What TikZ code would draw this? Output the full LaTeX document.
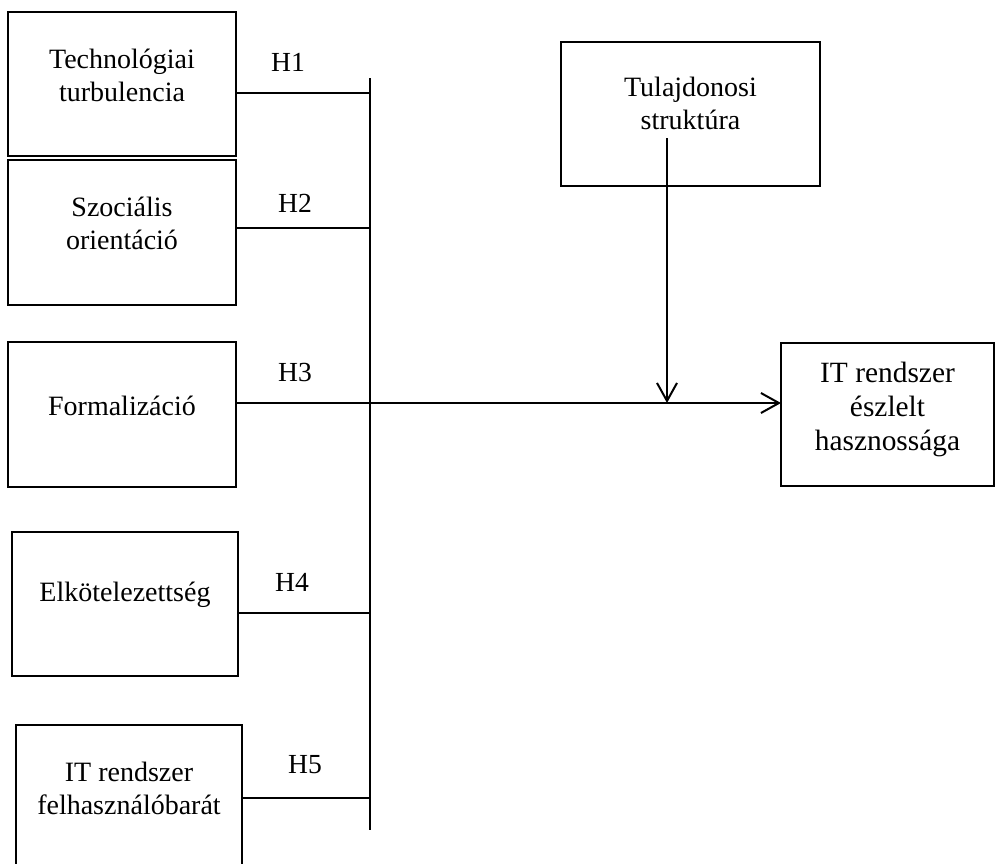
\documentclass[tikz,border=0pt]{standalone}
\usepackage{fontspec}
\setmainfont{Liberation Serif}
\usetikzlibrary{positioning, arrows.meta}
\begin{document}
\begin{tikzpicture}[
    x=0.5pt, y=-0.5pt,
    box/.style={draw, line width=1pt, inner sep=0pt, outer sep=0pt, minimum width=114pt, minimum height=72.5pt},
    txt/.style={align=center, inner sep=0pt, font=\fontsize{14}{16.5}\selectfont},
    hlab/.style={inner sep=0pt, font=\fontsize{13.8}{15}\selectfont},
    link/.style={line width=1pt},
    arr/.style={line width=1pt, -{Straight Barb[length=9pt, width=10pt, line width=1pt]}},
  ]
  \useasboundingbox (0,0) rectangle (997,863);
  \node[box, minimum height=72pt] (tech) at (122,84) {};
  \node[box, below=2pt of tech] (soc) {};
  \node[box, below=18.5pt of soc] (form) {};
  \node[box, minimum width=113pt, minimum height=72pt, below=22.5pt of form, xshift=1.5pt] (elk) {};
  \node[box, minimum width=113pt, below=24.5pt of elk, xshift=2pt] (itf) {};
  \node[box, minimum width=129.5pt, minimum height=72pt] (owner) at (690.5,114) {};
  \node[box, minimum width=106.5pt, minimum height=71.5pt] (useful) at (887.5,414) {};
  \node[txt] (ttech) at ([yshift=4.5pt]tech.center) {Technológiai\\turbulencia};
  \node[txt] (tsoc) at ([yshift=4.5pt]soc.center) {Szociális\\orientáció};
  \node[txt] (tform) at ([yshift=4.5pt]form.center) {Formalizáció};
  \node[txt] (telk) at ([yshift=4.5pt]elk.center) {Elkötelezettség};
  \node[txt] (titf) at ([yshift=4.5pt]itf.center) {IT rendszer\\felhasználóbarát};
  \node[txt] (towner) at ([yshift=5.2pt]owner.center) {Tulajdonosi\\struktúra};
  \node[txt, font=\fontsize{14.7}{17}\selectfont] (tuseful) at ([yshift=2.5pt]useful.center) {IT rendszer\\észlelt\\hasznossága};
  \node[hlab] (h1) at (288,62) {H1};
  \node[hlab] (h2) at (295,203) {H2};
  \node[hlab] (h3) at (295,372) {H3};
  \node[hlab] (h4) at (292,582) {H4};
  \node[hlab] (h5) at (305,765) {H5};
  \coordinate (bustop) at (370,78);
  \coordinate (busbot) at (370,830);
  \coordinate (j1) at (370,93);
  \coordinate (j2) at (370,228);
  \coordinate (j3) at (370,403);
  \coordinate (j4) at (370,613);
  \coordinate (j5) at (370,798);
  \coordinate (modtop) at (667,138);
  \coordinate (modend) at (667,403);
  \draw[link] (bustop) -- (busbot);
  \draw[link] (tech.east |- j1) -- (j1);
  \draw[link] (soc.east |- j2) -- (j2);
  \draw[link] (elk.east |- j4) -- (j4);
  \draw[link] (itf.east |- j5) -- (j5);
  \draw[arr] (form.east |- j3) -- (useful.west |- j3);
  \draw[arr] (modtop) -- (modend);
\end{tikzpicture}
\end{document}
